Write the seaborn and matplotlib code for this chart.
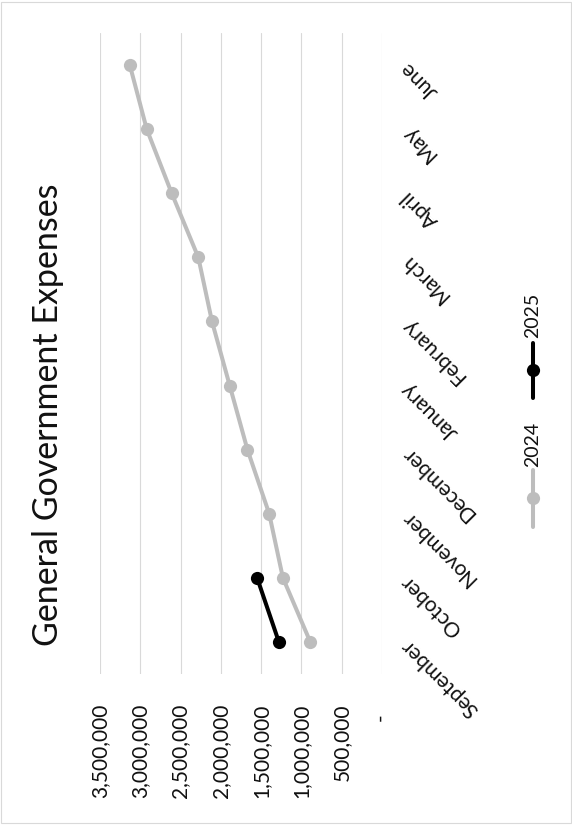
import numpy as np
import pandas as pd
import seaborn as sns
import matplotlib.pyplot as plt
from matplotlib.lines import Line2D
from matplotlib.patches import Rectangle

# Cumulative general government expenses by month
months = ["September", "October", "November", "December", "January",
          "February", "March", "April", "May", "June"]
expenses_2024 = [890000, 1230000, 1400000, 1670000, 1890000,
                 2110000, 2280000, 2610000, 2920000, 3130000]
expenses_2025 = [1280000, 1550000]
years = ["2024", "2025"]
value_ticks = [0, 500000, 1000000, 1500000, 2000000, 2500000, 3000000, 3500000]

rows = []
for year, series in zip(years, [expenses_2024, expenses_2025]):
    for i, v in enumerate(series):
        rows.append({"month": months[i], "pos": i, "value": v, "year": year})
df = pd.DataFrame(rows)

palette = {"2024": "#bdbdbd", "2025": "#000000"}

sns.set_theme(style="white")
plt.rcParams["font.family"] = ["Lato", "DejaVu Sans"]

W, H = 572, 825
fig = plt.figure(figsize=(W / 100, H / 100), dpi=100)
fig.patch.set_facecolor("white")


def fx(px):
    return px / W


def fy(py):
    return 1 - py / H


ax = fig.add_axes([fx(100), fy(674), fx(382) - fx(100), fy(33) - fy(674)])

sns.lineplot(data=df, x="value", y="pos", hue="year", palette=palette,
             marker="o", markersize=9.5, linewidth=2.9, markeredgewidth=0,
             estimator=None, sort=True, orient="y", legend=False, ax=ax)

ax.set_xlim(3500000, 0)
ax.set_ylim(-0.5, len(months) - 0.5)

ax.set_xticks(value_ticks)
ax.set_xticklabels([f"{v:,}" if v else "-  " for v in value_ticks],
                   rotation=90, fontsize=15, color="#111111")
ax.tick_params(axis="x", length=0, pad=21)

ax.yaxis.tick_right()
ax.set_yticks(range(len(months)))
ax.set_yticklabels(months, rotation=135, ha="right", va="center",
                   rotation_mode="anchor", fontsize=15, color="#111111")
ax.tick_params(axis="y", length=0, pad=16)

ax.grid(axis="x", color="#d9d9d9", linewidth=0.8)
ax.grid(axis="y", visible=False)
for s in ax.spines.values():
    s.set_visible(False)
ax.set_xlabel("")
ax.set_ylabel("")

# Title, rotated with the rest of the chart
fig.text(fx(48), fy(415), "General Government Expenses", rotation=90,
         ha="center", va="center", fontsize=24.5, color="#111111")

# Legend drawn as rotated entries
legend_items = [("2024", palette["2024"], 527, 470, 498, 444),
                ("2025", palette["2025"], 398, 343, 370, 315)]
for label, color, y0, y1, ym, yt in legend_items:
    fig.add_artist(Line2D([fx(533), fx(533)], [fy(y0), fy(y1)],
                          color=color, linewidth=2.9,
                          transform=fig.transFigure))
    fig.add_artist(Line2D([fx(533)], [fy(ym)], marker="o", markersize=9.5,
                          markeredgewidth=0, color=color,
                          transform=fig.transFigure))
    fig.text(fx(533), fy(yt), label, rotation=90, ha="center", va="center",
             fontsize=14, color="#111111")

# Chart area border
fig.add_artist(Rectangle((0.002, 0.002), 0.996, 0.996, fill=False,
                         edgecolor="#d9d9d9", linewidth=0.8,
                         transform=fig.transFigure))

fig.savefig("out.png", dpi=100)
